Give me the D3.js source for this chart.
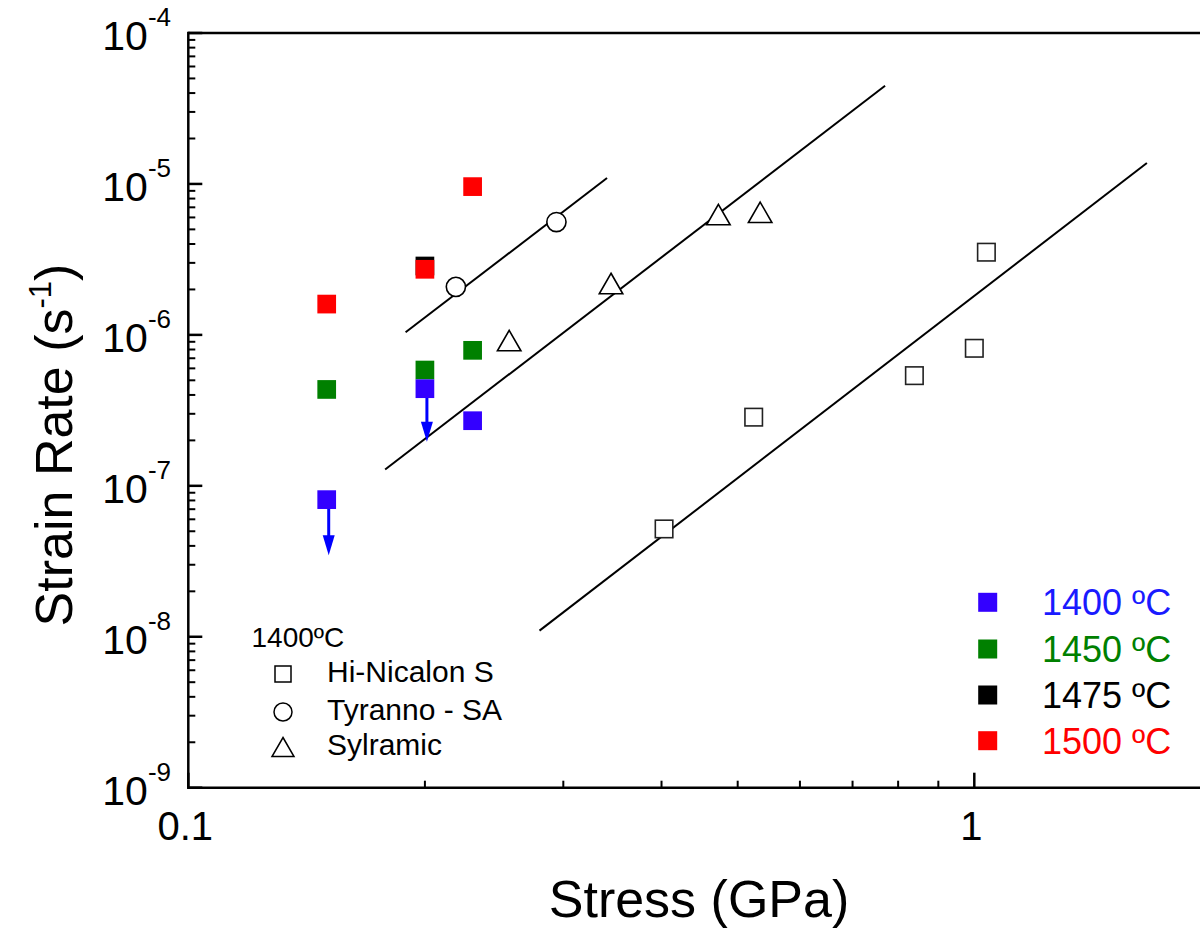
<!DOCTYPE html>
<html>
<head>
<meta charset="utf-8">
<script src="https://cdn.jsdelivr.net/npm/d3@7"></script>
<style>
  html, body { margin: 0; padding: 0; background: #fff; }
  svg { display: block; font-family: "Liberation Sans", Arial, sans-serif; }
</style>
</head>
<body>
<svg id="chart" width="1200" height="933"></svg>
<script>
// ---------------- data ----------------
const stress1400 = [0.15, 0.2, 0.23];
const rate1400   = [8.1e-8, 4.4e-7, 2.7e-7];
const stress1450 = [0.15, 0.2, 0.23];
const rate1450   = [4.35e-7, 5.85e-7, 7.9e-7];
const stress1475 = [0.2];
const rate1475   = [2.86e-6];
const stress1500 = [0.15, 0.2, 0.23];
const rate1500   = [1.6e-6, 2.72e-6, 9.6e-6];

const arrowStress = [0.15, 0.2];
const arrowFrom   = [8.1e-8, 4.4e-7];
const arrowTo     = [3.47e-8, 1.96e-7];

const stressHiNicalon = [0.403, 0.524, 0.839, 1.0, 1.036];
const rateHiNicalon   = [5.18e-8, 2.85e-7, 5.37e-7, 8.15e-7, 3.53e-6];
const stressTyranno   = [0.219, 0.294];
const rateTyranno     = [2.08e-6, 5.59e-6];
const stressSylramic  = [0.256, 0.345, 0.4725, 0.534];
const rateSylramic    = [9.17e-7, 2.19e-6, 6.27e-6, 6.49e-6];

const fitTyrannoStress   = [0.189, 0.341];
const fitTyrannoRate     = [1.04e-6, 1.094e-5];
const fitSylramicStress  = [0.178, 0.770];
const fitSylramicRate    = [1.284e-7, 4.47e-5];
const fitHiNicalonStress = [0.2798, 1.658];
const fitHiNicalonRate   = [1.098e-8, 1.376e-5];

const xTickValues = [0.1, 1];
const xTickLabels = ["0.1", "1"];
const yTickValues = [1e-4, 1e-5, 1e-6, 1e-7, 1e-8, 1e-9];
const yTickExponents = ["-4", "-5", "-6", "-7", "-8", "-9"];

const tempLabels = ["1400 ºC", "1450 ºC", "1475 ºC", "1500 ºC"];
const fiberLabels = ["Hi-Nicalon S", "Tyranno - SA", "Sylramic"];

// ---------------- layout ----------------
const svg = d3.select("#chart");
const pLeft = 188.3, pTop = 33, pBottom = 787.7;
const x = d3.scaleLog().domain([0.1, 2]).range([pLeft, pLeft + 786 * Math.log10(20)]);
const y = d3.scaleLog().domain([1e-9, 1e-4]).range([pBottom, pTop]);

const colBlueSq = "#3300ff", colBlueTxt = "#1a1aff", colArrow = "#0000ff";
const colGreen = "#008000", colRed = "#ff0000", colBlack = "#000000";

// ---------------- axes ----------------
const axisG = svg.append("g");
const yMinor = [];
for (let e = -9; e < -4; e++) for (let m = 2; m <= 9; m++) yMinor.push(m * Math.pow(10, e));
axisG.selectAll(".ymin").data(yMinor).enter().append("line")
  .attr("x1", pLeft).attr("x2", pLeft + 7)
  .attr("y1", d => y(d)).attr("y2", d => y(d))
  .attr("stroke", "#000").attr("stroke-width", 2);
axisG.selectAll(".ymaj").data(yTickValues).enter().append("line")
  .attr("x1", pLeft).attr("x2", pLeft + 14)
  .attr("y1", d => y(d)).attr("y2", d => y(d))
  .attr("stroke", "#000").attr("stroke-width", 2.5);

const xMinor = [0.2, 0.3, 0.4, 0.5, 0.6, 0.7, 0.8, 0.9];
axisG.selectAll(".xmin").data(xMinor).enter().append("line")
  .attr("x1", d => x(d)).attr("x2", d => x(d))
  .attr("y1", pBottom).attr("y2", pBottom - 7)
  .attr("stroke", "#000").attr("stroke-width", 2);
axisG.selectAll(".xmaj").data(xTickValues).enter().append("line")
  .attr("x1", d => x(d)).attr("x2", d => x(d))
  .attr("y1", pBottom).attr("y2", pBottom - 15)
  .attr("stroke", "#000").attr("stroke-width", 2.5);

axisG.append("line").attr("x1", pLeft).attr("x2", 1200).attr("y1", pTop).attr("y2", pTop)
  .attr("stroke", "#000").attr("stroke-width", 2.5);
axisG.append("line").attr("x1", pLeft).attr("x2", 1200).attr("y1", pBottom).attr("y2", pBottom)
  .attr("stroke", "#000").attr("stroke-width", 2.5);
axisG.append("line").attr("x1", pLeft).attr("x2", pLeft).attr("y1", pTop - 1.2).attr("y2", pBottom + 1.2)
  .attr("stroke", "#000").attr("stroke-width", 2.5);

yTickValues.forEach((v, i) => {
  const t = axisG.append("text").attr("x", 171).attr("y", y(v) + 17)
    .attr("text-anchor", "end").attr("font-size", 41).attr("fill", "#000");
  t.append("tspan").text("10");
  t.append("tspan").attr("dy", -24).attr("font-size", 26).text(yTickExponents[i]);
});
xTickValues.forEach((v, i) => {
  axisG.append("text").attr("x", x(v) - 3).attr("y", pBottom + 52)
    .attr("text-anchor", "middle").attr("font-size", 40).attr("fill", "#000")
    .text(xTickLabels[i]);
});

svg.append("text").attr("x", 699).attr("y", 917).attr("text-anchor", "middle")
  .attr("font-size", 52).attr("fill", "#000").text("Stress (GPa)");
const yt = svg.append("text").attr("transform", "translate(72,445) rotate(-90)")
  .attr("text-anchor", "middle").attr("font-size", 52).attr("fill", "#000");
yt.append("tspan").text("Strain Rate (s");
yt.append("tspan").attr("dy", -21).attr("font-size", 31).text("-1");
yt.append("tspan").attr("dy", 21).text(")");

// ---------------- fit lines ----------------
const plot = svg.append("g");
[[fitTyrannoStress, fitTyrannoRate], [fitSylramicStress, fitSylramicRate], [fitHiNicalonStress, fitHiNicalonRate]]
  .forEach(([s, r]) => {
    plot.append("line")
      .attr("x1", x(s[0])).attr("y1", y(r[0]))
      .attr("x2", x(s[1])).attr("y2", y(r[1]))
      .attr("stroke", "#000").attr("stroke-width", 2);
  });

// ---------------- arrows ----------------
arrowStress.forEach((s, i) => {
  const cx = x(s) + 2, y0 = y(arrowFrom[i]), y1 = y(arrowTo[i]);
  plot.append("line").attr("x1", cx).attr("x2", cx).attr("y1", y0).attr("y2", y1 - 16)
    .attr("stroke", colArrow).attr("stroke-width", 3);
  plot.append("path")
    .attr("d", `M${cx - 6},${y1 - 20} L${cx + 6},${y1 - 20} L${cx},${y1} Z`)
    .attr("fill", colArrow);
});

// ---------------- filled squares ----------------
const sq = 18.7;
function squares(stress, rate, color) {
  plot.selectAll(null).data(stress.map((s, i) => [s, rate[i]])).enter().append("rect")
    .attr("x", d => x(d[0]) - sq / 2).attr("y", d => y(d[1]) - sq / 2)
    .attr("width", sq).attr("height", sq).attr("fill", color);
}
squares(stress1450, rate1450, colGreen);
squares(stress1400, rate1400, colBlueSq);
squares(stress1475, rate1475, colBlack);
squares(stress1500, rate1500, colRed);

// ---------------- open markers ----------------
const osq = 17.5;
plot.selectAll(null).data(stressHiNicalon.map((s, i) => [s, rateHiNicalon[i]])).enter().append("rect")
  .attr("x", d => x(d[0]) - osq / 2).attr("y", d => y(d[1]) - osq / 2)
  .attr("width", osq).attr("height", osq)
  .attr("fill", "#fff").attr("stroke", "#222").attr("stroke-width", 1.6);
plot.selectAll(null).data(stressTyranno.map((s, i) => [s, rateTyranno[i]])).enter().append("circle")
  .attr("cx", d => x(d[0])).attr("cy", d => y(d[1])).attr("r", 9.6)
  .attr("fill", "#fff").attr("stroke", "#000").attr("stroke-width", 1.6);
function triPath(cx, cy, w, h) {
  return `M${cx},${cy - h / 2} L${cx + w / 2},${cy + h / 2} L${cx - w / 2},${cy + h / 2} Z`;
}
plot.selectAll(null).data(stressSylramic.map((s, i) => [s, rateSylramic[i]])).enter().append("path")
  .attr("d", d => triPath(x(d[0]), y(d[1]), 23.5, 20.5))
  .attr("fill", "#fff").attr("stroke", "#000").attr("stroke-width", 1.6);

// ---------------- right legend ----------------
const legColsSq = [colBlueSq, colGreen, colBlack, colRed];
const legColsTxt = [colBlueTxt, colGreen, colBlack, colRed];
const legY = [602.3, 649, 695, 740.7];
tempLabels.forEach((t, i) => {
  svg.append("rect").attr("x", 987.7 - 9.5).attr("y", legY[i] - 9.5)
    .attr("width", 19).attr("height", 19).attr("fill", legColsSq[i]);
  svg.append("text").attr("x", 1042).attr("y", legY[i] + 12.8)
    .attr("font-size", 36).attr("fill", legColsTxt[i]).text(t);
});

// ---------------- left legend ----------------
svg.append("text").attr("x", 251.5).attr("y", 646.5).attr("font-size", 28)
  .attr("fill", "#000").text("1400ºC");
const fy = [674, 712, 747];
svg.append("rect").attr("x", 283 - 8).attr("y", fy[0] - 8).attr("width", 16).attr("height", 16)
  .attr("fill", "#fff").attr("stroke", "#000").attr("stroke-width", 1.5);
svg.append("circle").attr("cx", 283).attr("cy", fy[1]).attr("r", 9)
  .attr("fill", "#fff").attr("stroke", "#000").attr("stroke-width", 1.5);
svg.append("path").attr("d", triPath(283, fy[2], 22, 19))
  .attr("fill", "#fff").attr("stroke", "#000").attr("stroke-width", 1.5);
fiberLabels.forEach((t, i) => {
  svg.append("text").attr("x", 327).attr("y", fy[i] + 7.7)
    .attr("font-size", 30).attr("fill", "#000").text(t);
});
</script>
</body>
</html>
